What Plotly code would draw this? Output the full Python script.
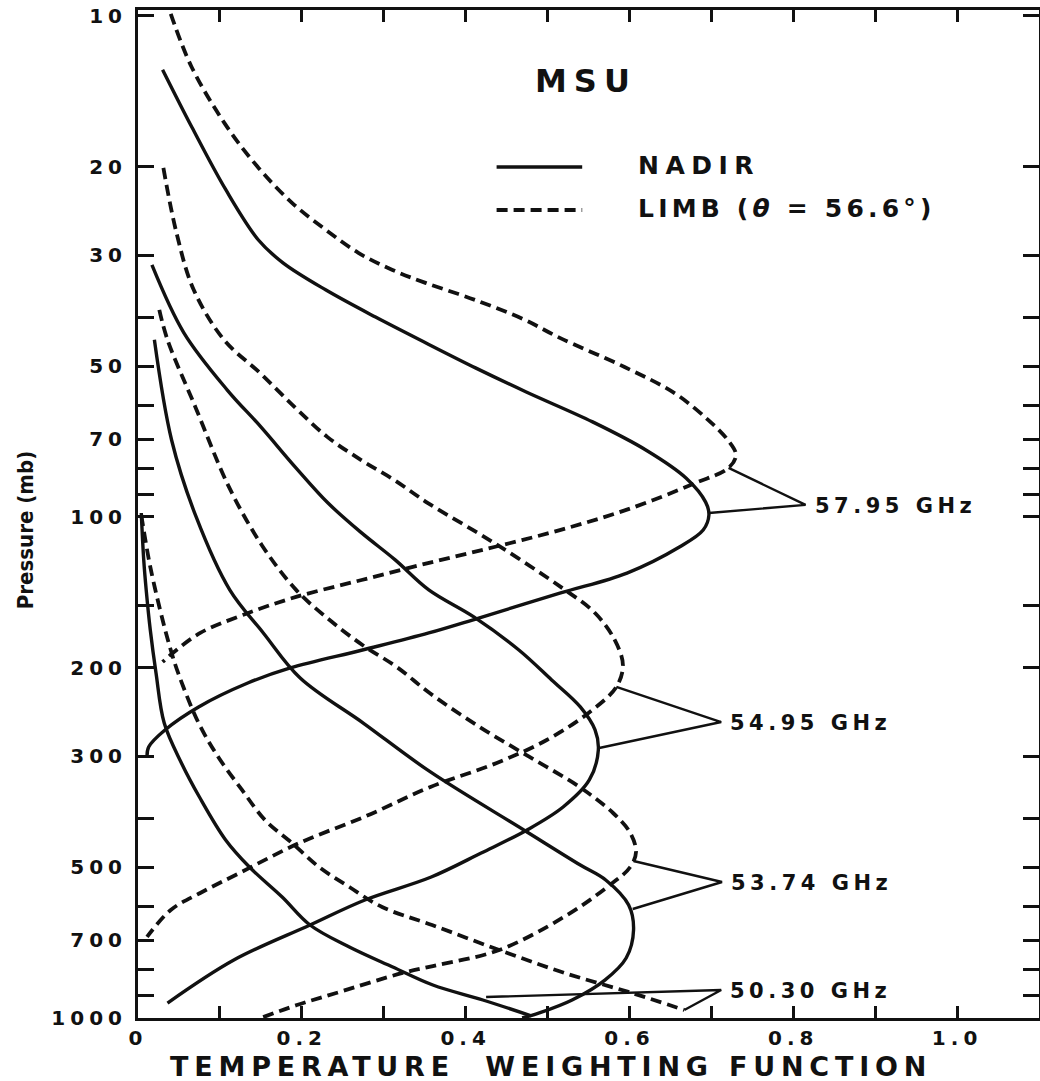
import math
import plotly.graph_objects as go

# ---------------- data ----------------
# 57.95 GHz
n5795_x = [0.030, 0.066, 0.107, 0.147, 0.177, 0.229, 0.290, 0.351, 0.412, 0.474, 0.555, 0.620, 0.669, 0.693, 0.697, 0.690, 0.661, 0.597, 0.516, 0.416, 0.355, 0.274, 0.186, 0.134, 0.074, 0.033, 0.013, 0.011]
n5795_p = [12.8, 16.7, 22.2, 28.0, 31.1, 35.2, 39.9, 44.9, 50.4, 56.3, 64.6, 73.5, 83.6, 93.4, 99.1, 106.2, 114.8, 129.4, 141.8, 159.1, 170.4, 184.3, 200.1, 214.5, 239.4, 266.1, 287.8, 302.7]
l5795_x = [0.040, 0.065, 0.106, 0.146, 0.188, 0.229, 0.269, 0.310, 0.351, 0.412, 0.472, 0.515, 0.594, 0.655, 0.696, 0.720, 0.730, 0.721, 0.681, 0.596, 0.515, 0.435, 0.354, 0.273, 0.193, 0.128, 0.076, 0.044, 0.030]
l5795_p = [9.9, 12.6, 16.4, 20.0, 23.6, 26.7, 29.7, 32.1, 34.1, 36.9, 40.4, 43.9, 50.2, 56.6, 64.0, 70.2, 75.2, 79.8, 85.5, 96.8, 106.2, 114.8, 123.6, 133.6, 144.4, 156.9, 170.4, 186.0, 194.7]
# 54.95 GHz
n5495_x = [0.017, 0.056, 0.109, 0.150, 0.192, 0.232, 0.273, 0.314, 0.355, 0.410, 0.465, 0.505, 0.540, 0.558, 0.562, 0.551, 0.519, 0.475, 0.419, 0.358, 0.277, 0.210, 0.117, 0.036]
n5495_p = [31.4, 42.9, 55.8, 66.1, 79.5, 93.8, 107.6, 121.8, 139.8, 158.3, 184.3, 211.5, 239.4, 266.1, 291.8, 334.9, 379.2, 421.4, 468.5, 523.1, 581.3, 652.2, 766.0, 933.5]
l5495_x = [0.031, 0.047, 0.068, 0.105, 0.149, 0.191, 0.231, 0.272, 0.313, 0.354, 0.435, 0.516, 0.558, 0.582, 0.592, 0.584, 0.550, 0.499, 0.438, 0.357, 0.279, 0.197, 0.124, 0.076, 0.040, 0.011]
l5495_p = [20.1, 27.1, 35.2, 44.3, 51.6, 60.3, 69.2, 76.9, 84.4, 93.8, 112.7, 137.9, 155.5, 176.0, 197.4, 218.4, 246.1, 278.7, 309.7, 345.8, 395.0, 447.4, 513.5, 562.9, 608.7, 689.0]
# 53.74 GHz
n5374_x = [0.020, 0.041, 0.071, 0.112, 0.153, 0.198, 0.275, 0.357, 0.471, 0.540, 0.571, 0.599, 0.605, 0.596, 0.570, 0.530, 0.490, 0.469]
n5374_p = [44.3, 70.2, 100, 139.8, 170.4, 209.6, 257.8, 322.8, 421.4, 495.1, 530.4, 595.1, 667.3, 759.0, 840, 920.6, 977, 1000]
l5374_x = [0.026, 0.036, 0.070, 0.111, 0.151, 0.193, 0.234, 0.274, 0.316, 0.356, 0.417, 0.478, 0.539, 0.580, 0.601, 0.608, 0.601, 0.573, 0.520, 0.441, 0.360, 0.323, 0.242, 0.194, 0.150]
l5374_p = [38.6, 44.3, 60.3, 87.1, 113.7, 139.8, 160.6, 180.1, 199.3, 224.6, 262.5, 301.3, 345.8, 389.8, 427.2, 466.4, 499.6, 547.7, 628.6, 731.7, 787.6, 813, 891.5, 942.2, 1000]
# 50.30 GHz
n5030_x = [0.004, 0.007, 0.010, 0.015, 0.022, 0.032, 0.053, 0.075, 0.107, 0.136, 0.176, 0.210, 0.258, 0.311, 0.360, 0.421, 0.480]
n5030_p = [98.2, 121.8, 139.8, 168.1, 204.8, 257.8, 309.7, 362.2, 441.2, 499.6, 573.4, 652.2, 721.6, 791.2, 859.3, 920.6, 990]
l5030_x = [0.004, 0.015, 0.031, 0.040, 0.049, 0.074, 0.098, 0.127, 0.155, 0.188, 0.221, 0.258, 0.298, 0.359, 0.441, 0.521, 0.603, 0.667]
l5030_p = [99.1, 125.8, 162.8, 184.3, 204.8, 257.8, 301.3, 350.6, 402.5, 447.4, 499.6, 547.7, 600.5, 652.2, 731.7, 813.3, 891.5, 963.8]

# frequency labels and their leader lines
freq_labels = ["57.95 GHz", "54.95 GHz", "53.74 GHz", "50.30 GHz"]
apex_x = [0.815, 0.712, 0.713, 0.712]
apex_p = [94.6, 256.6, 535.2, 879]
limb_tx = [0.721, 0.584, 0.605, 0.667]
limb_tp = [79.8, 218.4, 486, 964]
nadir_tx = [0.697, 0.563, 0.604, 0.425]
nadir_tp = [98.2, 289.1, 606, 908]

# axis ticks
x_tickvals = [0.0, 0.1, 0.2, 0.3, 0.4, 0.5, 0.6, 0.7, 0.8, 0.9, 1.0, 1.1]
x_ticktext = ["0", "", "0.2", "", "0.4", "", "0.6", "", "0.8", "", "1.0", ""]
y_tickvals = [10, 20, 30, 40, 50, 60, 70, 80, 90, 100, 150, 200, 300, 400, 500, 600, 700, 800, 900, 1000]
y_labelled = [10, 20, 30, 50, 70, 100, 200, 300, 500, 700, 1000]

title_x = "TEMPERATURE  WEIGHTING FUNCTION"
title_y = "Pressure (mb)"
legend_nadir = "NADIR"
legend_limb = "LIMB (<i>θ</i> = 56.6°)"
panel_title = "MSU"

# ---------------- figure ----------------
FONT = "DejaVu Sans"
BLACK = "#111111"


def spaced(text, px):
    return f'<span style="letter-spacing:{px}px">{text}</span>'


fig = go.Figure()

solid = dict(color=BLACK, width=3.4, shape="spline", smoothing=1.0)
dashed = dict(color=BLACK, width=3.8, dash="11px,6px", shape="spline", smoothing=1.0)

curves = [
    (n5795_x, n5795_p, solid, "NADIR 57.95"), (l5795_x, l5795_p, dashed, "LIMB 57.95"),
    (n5495_x, n5495_p, solid, "NADIR 54.95"), (l5495_x, l5495_p, dashed, "LIMB 54.95"),
    (n5374_x, n5374_p, solid, "NADIR 53.74"), (l5374_x, l5374_p, dashed, "LIMB 53.74"),
    (n5030_x, n5030_p, solid, "NADIR 50.30"), (l5030_x, l5030_p, dashed, "LIMB 50.30"),
]
for xs, ps, ln, nm in curves:
    fig.add_trace(go.Scatter(x=xs, y=ps, mode="lines", line=ln, name=nm,
                             showlegend=False, hoverinfo="skip"))

# leader lines
for i in range(len(freq_labels)):
    fig.add_trace(go.Scatter(
        x=[limb_tx[i], apex_x[i], nadir_tx[i]],
        y=[limb_tp[i], apex_p[i], nadir_tp[i]],
        mode="lines", line=dict(color=BLACK, width=2.4),
        showlegend=False, hoverinfo="skip"))

annotations = []
for i, lab in enumerate(freq_labels):
    annotations.append(dict(
        x=apex_x[i], y=math.log10(apex_p[i]), xref="x", yref="y",
        text="<b>" + spaced(lab, 4.5) + "</b>", showarrow=False,
        xanchor="left", yanchor="middle", xshift=7, yshift=-1,
        font=dict(family=FONT, size=21, color=BLACK)))

# panel title and legend text
annotations.append(dict(x=0.497, y=0.9296, xref="paper", yref="paper",
                        text="<b>" + spaced(panel_title, 7) + "</b>", showarrow=False,
                        xanchor="center", yanchor="middle",
                        font=dict(family=FONT, size=32, color=BLACK)))
annotations.append(dict(x=0.553, y=0.8462, xref="paper", yref="paper",
                        text="<b>" + spaced(legend_nadir, 6.5) + "</b>", showarrow=False,
                        xanchor="left", yanchor="middle",
                        font=dict(family=FONT, size=25, color=BLACK)))
annotations.append(dict(x=0.553, y=0.8026, xref="paper", yref="paper",
                        text="<b>" + spaced(legend_limb, 4.2) + "</b>", showarrow=False,
                        xanchor="left", yanchor="middle",
                        font=dict(family=FONT, size=25, color=BLACK)))
# axis titles
annotations.append(dict(x=0.458, y=-0.0486, xref="paper", yref="paper",
                        text="<b>" + spaced(title_x, 5.8) + "</b>", showarrow=False,
                        xanchor="center", yanchor="middle",
                        font=dict(family=FONT, size=27, color=BLACK)))
annotations.append(dict(x=-0.1254, y=0.484, xref="paper", yref="paper",
                        text="<b>" + title_y + "</b>", showarrow=False, textangle=-90,
                        xanchor="center", yanchor="middle",
                        font=dict(family="Liberation Sans Narrow, DejaVu Sans Condensed, sans-serif",
                                  size=22, color=BLACK)))

shapes = [
    dict(type="line", xref="paper", yref="paper", x0=0.398, x1=0.493, y0=0.8442, y1=0.8442,
         line=dict(color=BLACK, width=3.4)),
    dict(type="line", xref="paper", yref="paper", x0=0.398, x1=0.493, y0=0.8016, y1=0.8016,
         line=dict(color=BLACK, width=3.8, dash="11px,6px")),
]

y_ticktext = [("<b>" + spaced(str(v), 5) + "</b>") if v in y_labelled else "" for v in y_tickvals]
x_ticktext_fmt = [("<b>" + spaced(t, 5) + "</b>") if t else "" for t in x_ticktext]

fig.update_layout(
    width=1040, height=1081,
    margin=dict(l=138, r=1, t=10, b=63),
    paper_bgcolor="white", plot_bgcolor="white",
    showlegend=False,
    annotations=annotations, shapes=shapes,
    font=dict(family=FONT, color=BLACK),
)
fig.update_xaxes(
    range=[0, 1.1], tickvals=x_tickvals, ticktext=x_ticktext_fmt,
    ticks="inside", ticklen=12, tickwidth=2.5, tickcolor=BLACK,
    showline=True, linewidth=3, linecolor=BLACK, mirror="ticks",
    showgrid=False, zeroline=False, ticklabelstandoff=0, automargin=False,
    ticklabeloverflow="allow",
    tickfont=dict(family=FONT, size=20, color=BLACK),
)
fig.update_yaxes(
    type="log", range=[3, math.log10(9.73)], tickvals=y_tickvals, ticktext=y_ticktext,
    ticks="inside", ticklen=16, tickwidth=2.5, tickcolor=BLACK,
    showline=True, linewidth=3, linecolor=BLACK, mirror="ticks",
    showgrid=False, zeroline=False, ticklabelstandoff=4, automargin=False,
    ticklabeloverflow="allow",
    tickfont=dict(family=FONT, size=20, color=BLACK),
)

# remove the browser's default 8 px body margin so the figure fills the window exactly
fig.write_html("out.html", config={"displayModeBar": False},
               post_script="document.body.style.margin='0px';")
